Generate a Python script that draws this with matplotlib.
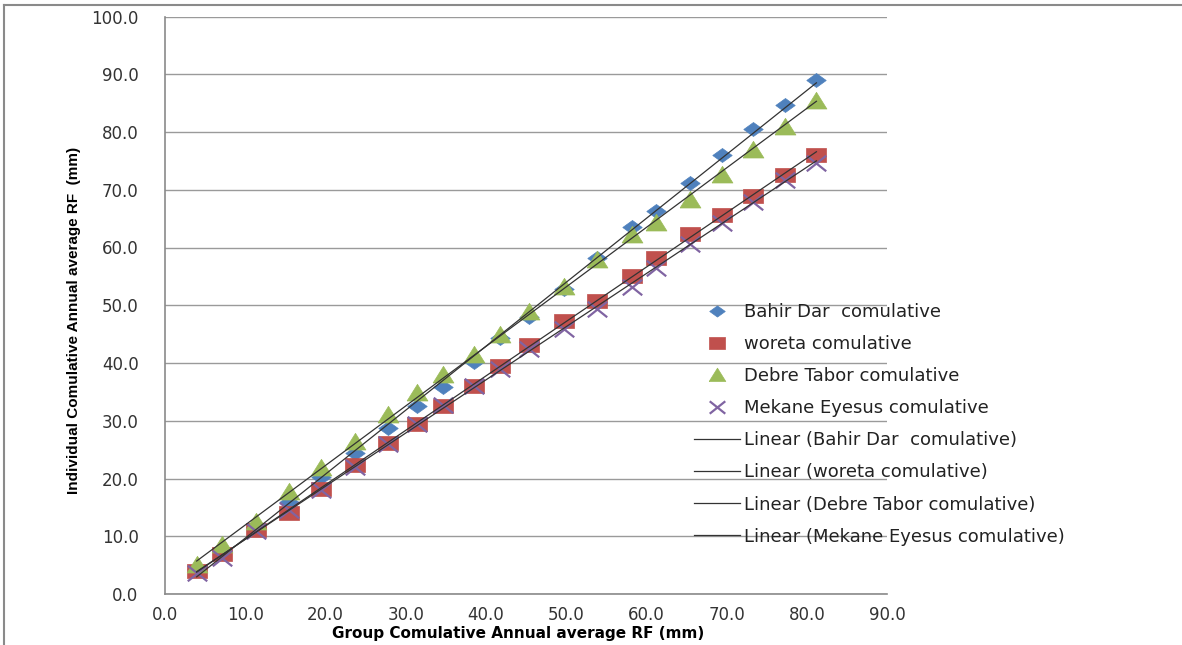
import numpy as np
import matplotlib.pyplot as plt
from matplotlib.path import Path
from matplotlib.lines import Line2D

# group cumulative annual average RF (x) and each station's cumulative value
group_rf = [3.95, 7.07, 11.4, 15.5, 19.5, 23.7, 27.8, 31.45, 34.7, 38.5, 41.8,
            45.4, 49.7, 53.8, 58.2, 61.2, 65.4, 69.4, 73.3, 77.3, 81.2]
bahir_dar = [4.4, 7.6, 11.6, 16.0, 20.3, 24.4, 28.7, 32.6, 35.9, 40.2, 44.4,
             48.0, 52.8, 58.2, 63.6, 66.4, 71.1, 76.0, 80.5, 84.7, 89.0]
woreta = [4.0, 7.0, 11.1, 14.1, 18.1, 22.3, 26.2, 29.4, 32.6, 36.0, 39.4,
          43.2, 47.3, 50.7, 55.1, 58.1, 62.4, 65.6, 69.0, 72.6, 76.0]
debre_tabor = [5.0, 8.4, 12.4, 17.7, 21.9, 26.3, 31.0, 34.8, 37.9, 41.4, 44.8,
               48.9, 53.2, 57.8, 62.2, 64.2, 68.3, 72.6, 76.9, 80.9, 85.3]
mekane_eyesus = [3.6, 6.3, 10.9, 14.5, 18.0, 22.0, 26.0, 29.5, 32.8, 36.0, 39.0,
                 42.5, 45.9, 49.3, 53.1, 56.4, 60.6, 64.2, 67.9, 71.7, 74.6]

names = ["Bahir Dar  comulative", "woreta comulative",
         "Debre Tabor comulative", "Mekane Eyesus comulative"]

# slightly wide markers, like the stretched excel screenshot
diamond = [(-1, 0), (0, 0.72), (1, 0), (0, -0.72), (-1, 0)]
square = [(-1, -0.76), (1, -0.76), (1, 0.76), (-1, 0.76), (-1, -0.76)]
triangle = [(-1, -0.72), (1, -0.72), (0, 0.88), (-1, -0.72)]
cross = Path([(-1, -0.8), (1, 0.8), (-1, 0.8), (1, -0.8)],
             [Path.MOVETO, Path.LINETO, Path.MOVETO, Path.LINETO])

fig = plt.figure(figsize=(11.82, 6.45), dpi=100)
ax = fig.add_axes([165 / 1182, 51 / 645, 722 / 1182, 577.5 / 645])

x = np.array(group_rf)
series = [
    (bahir_dar, diamond, 14, '#4F81BD', None),
    (woreta, square, 14, '#C0504D', None),
    (debre_tabor, triangle, 15, '#9BBB59', None),
    (mekane_eyesus, cross, 14, '#8064A2', 1.6),
]

handles = []
for vals, mk, ms, col, lw in series:
    if lw is None:
        h, = ax.plot(x, vals, linestyle='none', marker=mk, markersize=ms,
                     markerfacecolor=col, markeredgecolor=col, markeredgewidth=0.5)
    else:
        h, = ax.plot(x, vals, linestyle='none', marker=mk, markersize=ms,
                     markerfacecolor='none', markeredgecolor=col, markeredgewidth=lw)
    handles.append(h)

trend = []
for vals, _, _, _, _ in series:
    k, b = np.polyfit(x, vals, 1)
    xs = np.array([x.min(), x.max()])
    t, = ax.plot(xs, k * xs + b, color='#333333', lw=0.9, zorder=3)
    trend.append(t)

ax.set_xlim(0, 90)
ax.set_ylim(0, 100)
ax.set_xticks(np.arange(0, 91, 10))
ax.set_yticks(np.arange(0, 101, 10))
ax.set_xticklabels(['%.1f' % v for v in np.arange(0, 91, 10)])
ax.set_yticklabels(['%.1f' % v for v in np.arange(0, 101, 10)])
ax.tick_params(axis='both', length=0, labelsize=12, colors='#333333')
ax.tick_params(axis='x', pad=9)
ax.tick_params(axis='y', pad=19)
ax.grid(axis='y', color='#9a9a9a', lw=1)
ax.set_axisbelow(True)
for s in ['top', 'right']:
    ax.spines[s].set_visible(False)
for s in ['left', 'bottom']:
    ax.spines[s].set_color('#8a8a8a')
    ax.spines[s].set_linewidth(1.2)

ax.set_xlabel("Group Comulative Annual average RF (mm)", fontsize=11,
              fontweight='bold', family='DejaVu Sans')
ax.xaxis.set_label_coords(0.489, -0.055)
ax.set_ylabel("Individual Comulative Annual average RF  (mm)", fontsize=11,
              fontweight='bold', family=['Liberation Sans Narrow', 'Liberation Sans'])
ax.yaxis.set_label_coords(-0.116, 0.473)

labels = names + ["Linear (" + n + ")" for n in names]
leg = fig.legend(handles + trend, labels, loc='upper left',
                 bbox_to_anchor=(694 / 1182, (645 - 303) / 645),
                 frameon=False, fontsize=13, markerscale=0.8,
                 handlelength=2.55, handletextpad=0.22, labelspacing=0.78,
                 borderpad=0, borderaxespad=0)
for t in leg.get_texts():
    t.set_color('#222222')

# the left/top chart border of the screenshot
fig.add_artist(Line2D([4 / 1182, 4 / 1182], [0, 1 - 5 / 645], color='#8a8a8a', lw=1.5))
fig.add_artist(Line2D([4 / 1182, 1], [1 - 5 / 645, 1 - 5 / 645], color='#8a8a8a', lw=1.5))

fig.savefig('out.png', dpi=100)
